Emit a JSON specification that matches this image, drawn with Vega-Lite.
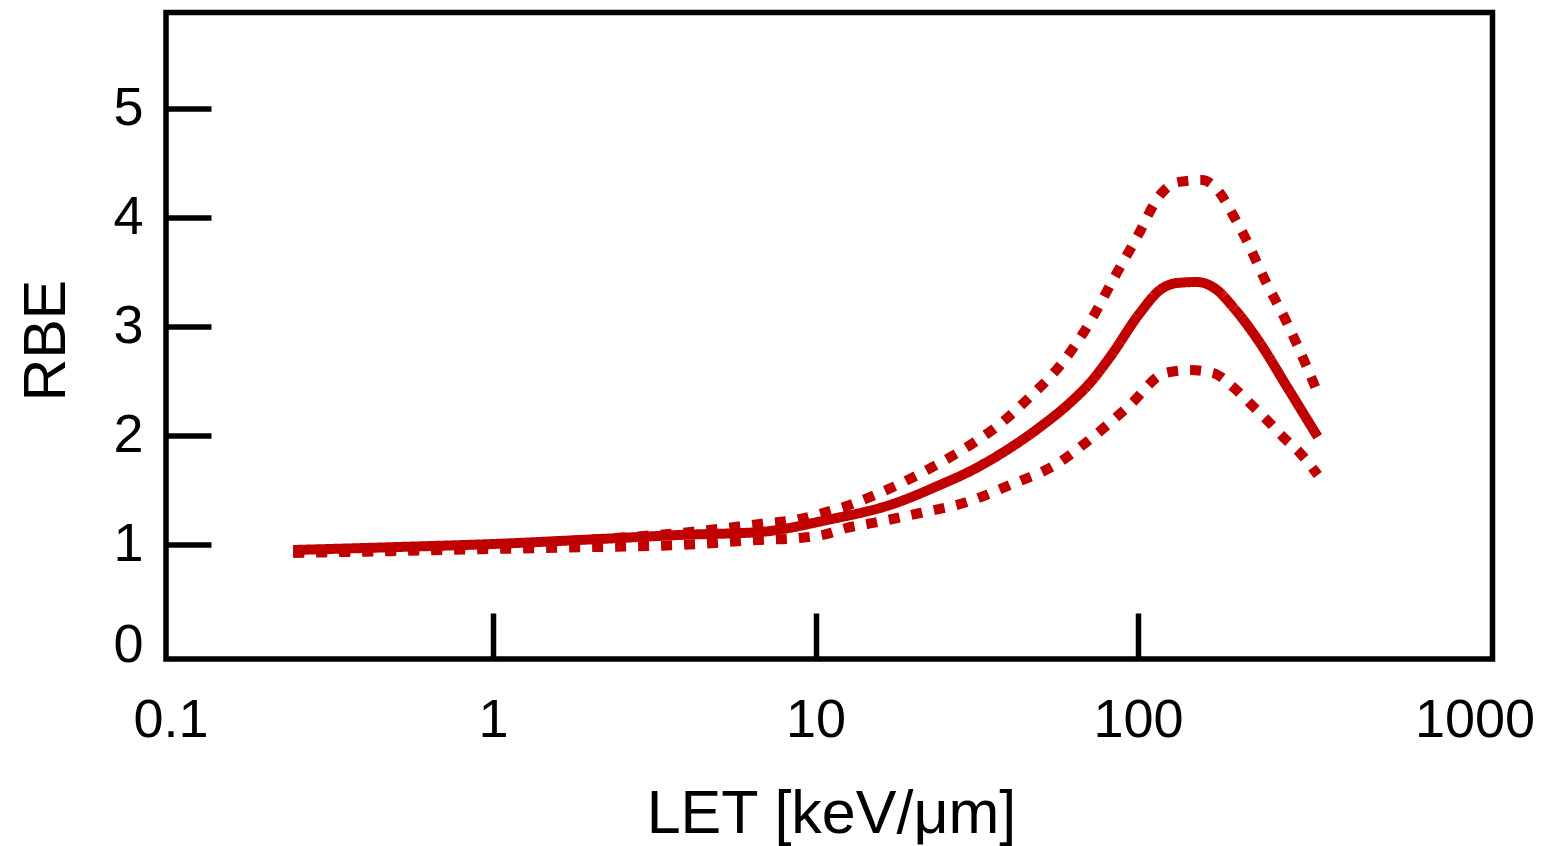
{
  "$schema": "https://vega.github.io/schema/vega-lite/v6.json",
  "width": 1326.5,
  "height": 646.5,
  "autosize": "none",
  "padding": {"left": 166, "top": 12.5, "right": 48.5, "bottom": 187},
  "background": "white",
  "config": {
    "view": {"stroke": "black", "strokeWidth": 5.5},
    "font": "Liberation Sans"
  },
  "data": {
    "values": [
      {"LET": 0.24, "RBE": 0.954, "s": "mean"},
      {"LET": 0.515, "RBE": 0.982, "s": "mean"},
      {"LET": 1.0, "RBE": 1.009, "s": "mean"},
      {"LET": 2.15, "RBE": 1.055, "s": "mean"},
      {"LET": 3.8, "RBE": 1.092, "s": "mean"},
      {"LET": 6.73, "RBE": 1.119, "s": "mean"},
      {"LET": 10.86, "RBE": 1.229, "s": "mean"},
      {"LET": 17.4, "RBE": 1.376, "s": "mean"},
      {"LET": 24.3, "RBE": 1.55, "s": "mean"},
      {"LET": 30.8, "RBE": 1.69, "s": "mean"},
      {"LET": 39.2, "RBE": 1.87, "s": "mean"},
      {"LET": 49.7, "RBE": 2.081, "s": "mean"},
      {"LET": 62.9, "RBE": 2.329, "s": "mean"},
      {"LET": 71.0, "RBE": 2.485, "s": "mean"},
      {"LET": 81.9, "RBE": 2.723, "s": "mean"},
      {"LET": 101.4, "RBE": 3.126, "s": "mean"},
      {"LET": 117.0, "RBE": 3.337, "s": "mean"},
      {"LET": 132.1, "RBE": 3.401, "s": "mean"},
      {"LET": 152.4, "RBE": 3.41, "s": "mean"},
      {"LET": 175.8, "RBE": 3.337, "s": "mean"},
      {"LET": 197.1, "RBE": 3.181, "s": "mean"},
      {"LET": 239, "RBE": 2.851, "s": "mean"},
      {"LET": 290, "RBE": 2.448, "s": "mean"},
      {"LET": 361, "RBE": 1.99, "s": "mean"},

      {"LET": 0.24, "RBE": 0.935, "s": "upper"},
      {"LET": 0.515, "RBE": 0.963, "s": "upper"},
      {"LET": 1.0, "RBE": 1.0, "s": "upper"},
      {"LET": 2.15, "RBE": 1.055, "s": "upper"},
      {"LET": 3.8, "RBE": 1.11, "s": "upper"},
      {"LET": 6.73, "RBE": 1.193, "s": "upper"},
      {"LET": 8.95, "RBE": 1.238, "s": "upper"},
      {"LET": 10.55, "RBE": 1.293, "s": "upper"},
      {"LET": 12.5, "RBE": 1.358, "s": "upper"},
      {"LET": 14.8, "RBE": 1.44, "s": "upper"},
      {"LET": 17.4, "RBE": 1.532, "s": "upper"},
      {"LET": 23.1, "RBE": 1.715, "s": "upper"},
      {"LET": 31.2, "RBE": 1.944, "s": "upper"},
      {"LET": 36.0, "RBE": 2.072, "s": "upper"},
      {"LET": 46.2, "RBE": 2.356, "s": "upper"},
      {"LET": 58.5, "RBE": 2.677, "s": "upper"},
      {"LET": 71.0, "RBE": 3.043, "s": "upper"},
      {"LET": 83.6, "RBE": 3.428, "s": "upper"},
      {"LET": 99.3, "RBE": 3.822, "s": "upper"},
      {"LET": 117.0, "RBE": 4.207, "s": "upper"},
      {"LET": 133, "RBE": 4.326, "s": "upper"},
      {"LET": 157.8, "RBE": 4.345, "s": "upper"},
      {"LET": 179.5, "RBE": 4.226, "s": "upper"},
      {"LET": 197.1, "RBE": 4.024, "s": "upper"},
      {"LET": 214.6, "RBE": 3.822, "s": "upper"},
      {"LET": 247.7, "RBE": 3.428, "s": "upper"},
      {"LET": 290, "RBE": 3.034, "s": "upper"},
      {"LET": 334, "RBE": 2.631, "s": "upper"},
      {"LET": 361, "RBE": 2.393, "s": "upper"},

      {"LET": 0.24, "RBE": 0.927, "s": "lower"},
      {"LET": 0.515, "RBE": 0.945, "s": "lower"},
      {"LET": 1.0, "RBE": 0.963, "s": "lower"},
      {"LET": 2.15, "RBE": 0.982, "s": "lower"},
      {"LET": 3.8, "RBE": 1.0, "s": "lower"},
      {"LET": 6.73, "RBE": 1.046, "s": "lower"},
      {"LET": 8.95, "RBE": 1.064, "s": "lower"},
      {"LET": 10.55, "RBE": 1.092, "s": "lower"},
      {"LET": 12.5, "RBE": 1.156, "s": "lower"},
      {"LET": 15.1, "RBE": 1.202, "s": "lower"},
      {"LET": 21.1, "RBE": 1.293, "s": "lower"},
      {"LET": 29.5, "RBE": 1.394, "s": "lower"},
      {"LET": 40.1, "RBE": 1.55, "s": "lower"},
      {"LET": 55.3, "RBE": 1.733, "s": "lower"},
      {"LET": 72.5, "RBE": 1.99, "s": "lower"},
      {"LET": 94.4, "RBE": 2.283, "s": "lower"},
      {"LET": 121.3, "RBE": 2.576, "s": "lower"},
      {"LET": 145, "RBE": 2.603, "s": "lower"},
      {"LET": 171, "RBE": 2.576, "s": "lower"},
      {"LET": 197.1, "RBE": 2.448, "s": "lower"},
      {"LET": 222, "RBE": 2.301, "s": "lower"},
      {"LET": 251, "RBE": 2.146, "s": "lower"},
      {"LET": 281.6, "RBE": 1.99, "s": "lower"},
      {"LET": 318, "RBE": 1.843, "s": "lower"},
      {"LET": 361, "RBE": 1.642, "s": "lower"}
    ]
  },
  "mark": {"type": "line", "color": "#C00000", "strokeWidth": 10, "strokeCap": "butt", "interpolate": "monotone", "clip": true},
  "encoding": {
    "x": {
      "field": "LET",
      "type": "quantitative",
      "scale": {"type": "log", "domain": [0.0968, 1257], "nice": false},
      "axis": {
        "title": "LET [keV/μm]",
        "values": [0.1, 1, 10, 100, 1000],
        "format": "~g",
        "domain": false,
        "grid": false,
        "tickSize": -46,
        "tickWidth": 5.5,
        "tickColor": "black",
        "tickOpacity": {"condition": {"test": "datum.value < 0.5 || datum.value > 500", "value": 0}, "value": 1},
        "labelFont": "Liberation Sans",
        "labelFontSize": 54,
        "labelColor": "black",
        "labelBaseline": "alphabetic",
        "labelAlign": "center",
        "labelPadding": 123,
        "labelOffset": {"condition": {"test": "datum.value > 500", "value": 14}, "value": 0},
        "labelFlush": false,
        "labelOverlap": false,
        "titleFont": "Liberation Sans",
        "titleFontSize": 61,
        "titleFontWeight": "normal",
        "titleColor": "black",
        "titleX": 665,
        "titleY": 173,
        "titleBaseline": "alphabetic",
        "titleAlign": "center"
      }
    },
    "y": {
      "field": "RBE",
      "type": "quantitative",
      "scale": {"domain": [-0.045, 5.88], "nice": false, "zero": false},
      "axis": {
        "title": "RBE",
        "values": [0, 1, 2, 3, 4, 5],
        "domain": false,
        "grid": false,
        "tickSize": -45,
        "tickWidth": 5.5,
        "tickColor": "black",
        "tickOpacity": {"condition": {"test": "datum.value < 0.5", "value": 0}, "value": 1},
        "labelFont": "Liberation Sans",
        "labelFontSize": 54,
        "labelColor": "black",
        "labelBaseline": "middle",
        "labelAlign": "right",
        "labelPadding": 68,
        "labelOffset": {"condition": {"test": "datum.value < 0.5", "value": -9}, "value": 0},
        "labelFlush": false,
        "labelOverlap": false,
        "titleFont": "Liberation Sans",
        "titleFontSize": 59,
        "titleFontWeight": "normal",
        "titleColor": "black",
        "titleX": -102,
        "titleY": 327.5,
        "titleAngle": -90,
        "titleBaseline": "alphabetic",
        "titleAlign": "center"
      }
    },
    "detail": {"field": "s"},
    "strokeDash": {
      "field": "s",
      "type": "nominal",
      "scale": {"domain": ["mean", "upper", "lower"], "range": [[1, 0], [11, 12], [11, 12]]},
      "legend": null
    }
  }
}
